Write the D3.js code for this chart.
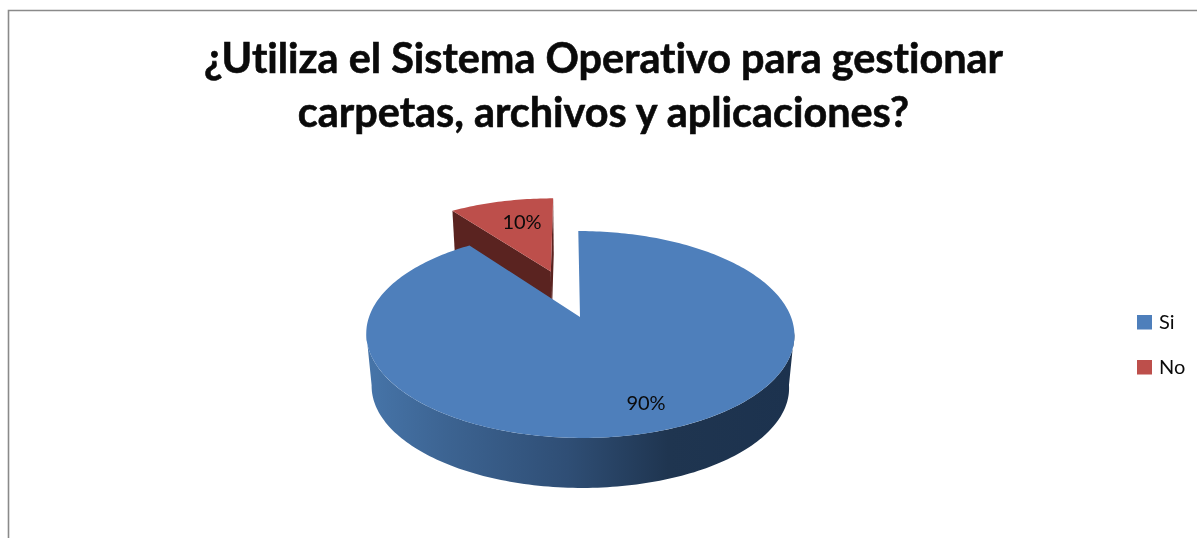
<!DOCTYPE html>
<html>
<head>
<meta charset="utf-8">
<script src="https://cdn.jsdelivr.net/npm/d3@7"></script>
<style>
html,body{margin:0;padding:0;background:#fff;overflow:hidden}
text{font-family:Lato,"Open Sans",sans-serif;fill:#0a0a0a;font-variant-ligatures:none}
</style>
</head>
<body>
<script>
const titleLines = ["¿Utiliza el Sistema Operativo para gestionar", "carpetas, archivos y aplicaciones?"];
const categories = ["Si", "No"];
const values = [90, 10];
const labels = ["90%", "10%"];
const topColors = ["#4e7fbb", "#bd4f4b"];
const sideColor = "#5a2320";

const W = 1197, H = 538;
const svg = d3.select("body").append("svg").attr("width", W).attr("height", H).style("display", "block");

const defs = svg.append("defs");
const grad = defs.append("linearGradient").attr("id", "side").attr("gradientUnits", "userSpaceOnUse")
  .attr("x1", 370).attr("x2", 790).attr("y1", 0).attr("y2", 0);
[[0, "#4674a8"], [0.19, "#3c6391"], [0.47, "#2f4e75"], [0.71, "#1f3550"], [1, "#1c324e"]]
  .forEach(([o, c]) => grad.append("stop").attr("offset", o).attr("stop-color", c));
const soft = defs.append("filter").attr("id", "soft").attr("x", "-5%").attr("y", "-5%").attr("width", "110%").attr("height", "110%")
  .attr("color-interpolation-filters", "sRGB");
soft.append("feGaussianBlur").attr("stdDeviation", 0.55);

// frame
const frame = svg.append("g").attr("filter", "url(#soft)");
frame.append("path").attr("d", `M8.5,${H + 5}V10.5H${W + 5}`).attr("fill", "none").attr("stroke", "#8a8a8a").attr("stroke-width", 1.6);

// pie angles from d3.pie, laid on a tilted plane
const pie = d3.pie().value(d => d).sort(null);
const arcs = pie(values);

const cx = 580, cy = 317, B = 211, A = 100.5, k = 0.169, lean = 2, depth = 53, shrink = 0.975;
const xs = d3.scaleLinear().domain([0, 1]).range([cx, cx + B]);
const ys = d3.scaleLinear().domain([0, 1]).range([cy, cy - A]);
function project(u, v, bottom) {
  const w = 1 + k * v;
  const s = bottom ? shrink : 1;
  return [
    cx + s * (xs(u / w) - cx) - lean * v / w,
    cy + s * (ys(v / w) - cy) + (bottom ? depth : 0)
  ];
}
function onDisc(theta, ox, oy, r, bottom) {
  return project(ox + r * Math.sin(theta), oy + r * Math.cos(theta), bottom);
}
function arcPoints(a0, a1, ox, oy, r, bottom) {
  const n = Math.max(2, Math.ceil(Math.abs(a1 - a0) / 0.02));
  return d3.range(n + 1).map(i => onDisc(a0 + (a1 - a0) * i / n, ox, oy, r, bottom));
}
const line = d3.line();
const closed = pts => line(pts) + "Z";

const offsets = [[0, 0, 1], [-0.145, 0.49, 0.985]];
const chart = svg.append("g").attr("filter", "url(#soft)");

// exploded slice: side walls first
{
  const a = arcs[1], [ox, oy, r] = offsets[1];
  const leftTop = onDisc(a.endAngle, ox, oy, r, false), leftBot = onDisc(a.endAngle, ox, oy, r, true);
  const rightTop = onDisc(a.startAngle, ox, oy, r, false), rightBot = onDisc(a.startAngle, ox, oy, r, true);
  const apexTop = project(ox, oy, false), apexBot = project(ox, oy, true);
  chart.append("path").attr("d", closed([leftTop, apexTop, apexBot, leftBot])).attr("fill", sideColor);
  chart.append("path").attr("d", closed([rightTop, apexTop, apexBot, rightBot])).attr("fill", sideColor);
  chart.append("path").attr("d", closed([apexTop, ...arcPoints(a.startAngle, a.endAngle, ox, oy, r, false)])).attr("fill", topColors[1]);
}

// main slice: rim wall then top
{
  const a = arcs[0];
  const rimStart = 1.72, rimEnd = 4.56;
  const rim = [...arcPoints(rimStart, rimEnd, 0, 0, 1, false), ...arcPoints(rimEnd, rimStart, 0, 0, 1, true)];
  chart.append("path").attr("d", closed(rim)).attr("fill", "url(#side)");
  chart.append("path").attr("d", closed([project(0, 0, false), ...arcPoints(a.startAngle, a.endAngle, 0, 0, 1, false)])).attr("fill", topColors[0]);
}

// texts
const txt = svg.append("g").attr("filter", "url(#soft)");
const titleY = d3.scalePoint().domain(titleLines).range([73, 127]);
txt.selectAll("text.title").data(titleLines).join("text").attr("class", "title")
  .attr("x", 603.5).attr("y", d => titleY(d)).attr("text-anchor", "middle")
  .attr("font-size", 41.4).attr("font-weight", 700)
  .attr("stroke", "#0a0a0a").attr("stroke-width", 0.6).text(d => d);

const labelPos = [[646, 410], [522, 229]];
txt.selectAll("text.lab").data(labels).join("text").attr("class", "lab")
  .attr("x", (d, i) => labelPos[i][0]).attr("y", (d, i) => labelPos[i][1]).attr("text-anchor", "middle")
  .attr("font-size", 20).text(d => d);

const legY = d3.scalePoint().domain(categories).range([322, 367]);
const leg = txt.selectAll("g.leg").data(categories).join("g").attr("class", "leg")
  .attr("transform", d => `translate(1137,${legY(d)})`);
leg.append("rect").attr("x", 0).attr("y", -7).attr("width", 15).attr("height", 14.5).attr("fill", (d, i) => topColors[i]);
leg.append("text").attr("x", 22).attr("y", 7).attr("font-size", 20).text(d => d);
</script>
</body>
</html>
